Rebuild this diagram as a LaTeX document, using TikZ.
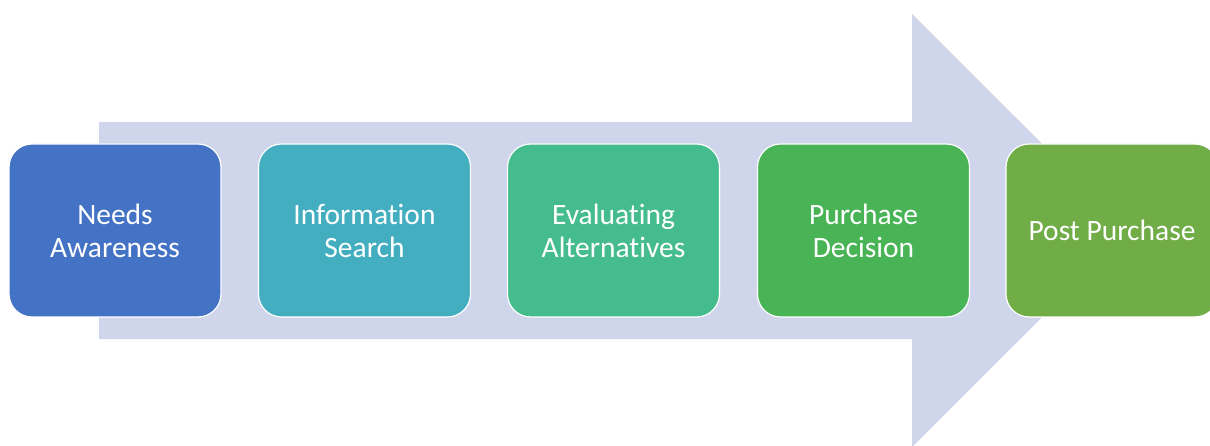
\documentclass[tikz,border=0pt]{standalone}
\usepackage{fontspec}
\setmainfont[RawFeature={-liga}]{Carlito}
\definecolor{arrowc}{HTML}{CFD5EA}
\definecolor{c1}{HTML}{4472C4}
\definecolor{c2}{HTML}{43AEC0}
\definecolor{c3}{HTML}{45BC8D}
\definecolor{c4}{HTML}{48B455}
\definecolor{c5}{HTML}{70AD47}
\begin{document}
\begin{tikzpicture}[x=1pt,y=-1pt,
  stagebox/.style={draw=white, line width=1.2pt, rounded corners=23pt,
    minimum width=212pt, minimum height=173pt, inner sep=0pt,
    text=white, align=center,
    font=\fontsize{29.5}{33}\selectfont}]
\useasboundingbox (0,0) rectangle (1210,446);
\begin{scope}
\clip (0,0) rectangle (1210,446);
\fill[arrowc] (99,122) -- (912,122) -- (912,14) -- (1129,230.5)
  -- (912,447) -- (912,339) -- (99,339) -- cycle;
\node[stagebox, fill=c1] (s1) at (115,230.5) {Needs\\Awareness};
\node[stagebox, fill=c2] (s2) at (364.5,230.5) {Information\\Search};
\node[stagebox, fill=c3] (s3) at (613.5,230.5) {Evaluating\\Alternatives};
\node[stagebox, fill=c4] (s4) at (863.5,230.5) {Purchase\\Decision};
\node[stagebox, fill=c5] (s5) at (1112,230.5) {Post Purchase};
\end{scope}
\end{tikzpicture}
\end{document}
